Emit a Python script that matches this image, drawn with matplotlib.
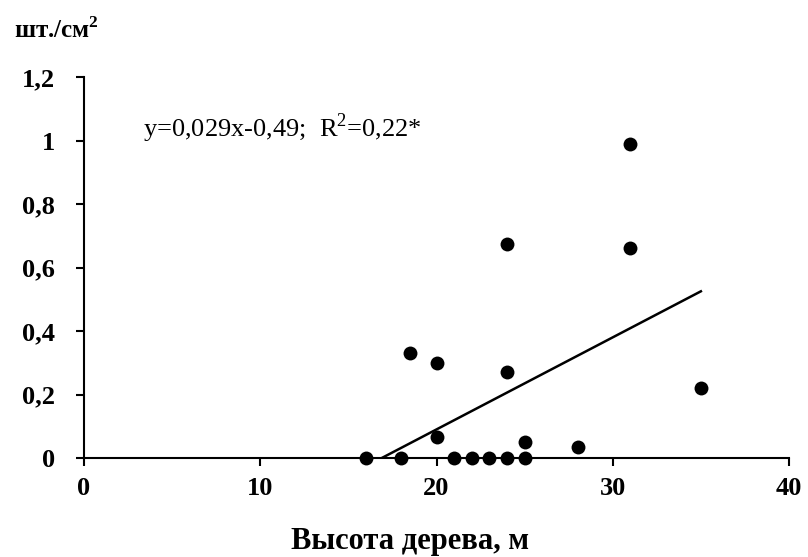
import matplotlib
matplotlib.use("Agg")
import matplotlib.pyplot as plt
import numpy as np

plt.rcParams['font.family'] = ['Liberation Serif', 'DejaVu Serif']
plt.rcParams['mathtext.fontset'] = 'custom'
plt.rcParams['mathtext.rm'] = 'Liberation Serif'
plt.rcParams['mathtext.bf'] = 'Liberation Serif:bold'

height = [16, 18, 18.5, 20, 20, 21, 22, 23, 24, 24, 24, 25, 25, 28, 31, 31, 35]
density = [0, 0, 0.33, 0.30, 0.067, 0, 0, 0, 0, 0.27, 0.675, 0.049, 0, 0.036, 0.99, 0.662, 0.22]
slope, intercept = 0.029, -0.49
trend_x = [16.9, 35]

x_ticks = [0, 10, 20, 30, 40]
y_ticks = [0, 0.2, 0.4, 0.6, 0.8, 1.0, 1.2]
y_labels = ['0', '0,2', '0,4', '0,6', '0,8', '1', '1,2']

fig = plt.figure(figsize=(8.08, 5.57), dpi=100)
ax = fig.add_axes([84/808, 1-458/557, (789-84)/808, (458-77)/557])

ax.scatter(height, density, s=100, color='black', zorder=3, clip_on=False, linewidths=0)
tx = np.array(trend_x)
ax.plot(tx, slope*tx + intercept, color='black', lw=1.8, zorder=2)

ax.set_xlim(0, 40)
ax.set_ylim(0, 1.2)
ax.set_xticks(x_ticks)
ax.set_xticklabels([str(v) for v in x_ticks], fontsize=19, fontweight='bold')
ax.set_yticks(y_ticks)
ax.set_yticklabels(y_labels, fontsize=19, fontweight='bold')
ax.tick_params(direction='out', length=6, width=1.5)
ax.tick_params(axis='x', pad=8)
ax.tick_params(axis='y', pad=15)
for s in ['top', 'right']:
    ax.spines[s].set_visible(False)
for s in ['left', 'bottom']:
    ax.spines[s].set_linewidth(1.5)

fig.text(410/808, 1-549/557, 'Высота дерева, м', fontsize=22, fontweight='bold',
         ha='center', va='baseline')
fig.text(14/808, 1-38/557, 'шт./см$^\\mathbf{2}$', fontsize=18, fontweight='bold',
         va='baseline', ha='left')
fig.text(143/808, 1-128/557, 'y=0,029x-0,49;  R$^\\mathrm{2}$=0,22*',
         fontsize=19, va='center', ha='left')

fig.savefig('out.png', dpi=100)
